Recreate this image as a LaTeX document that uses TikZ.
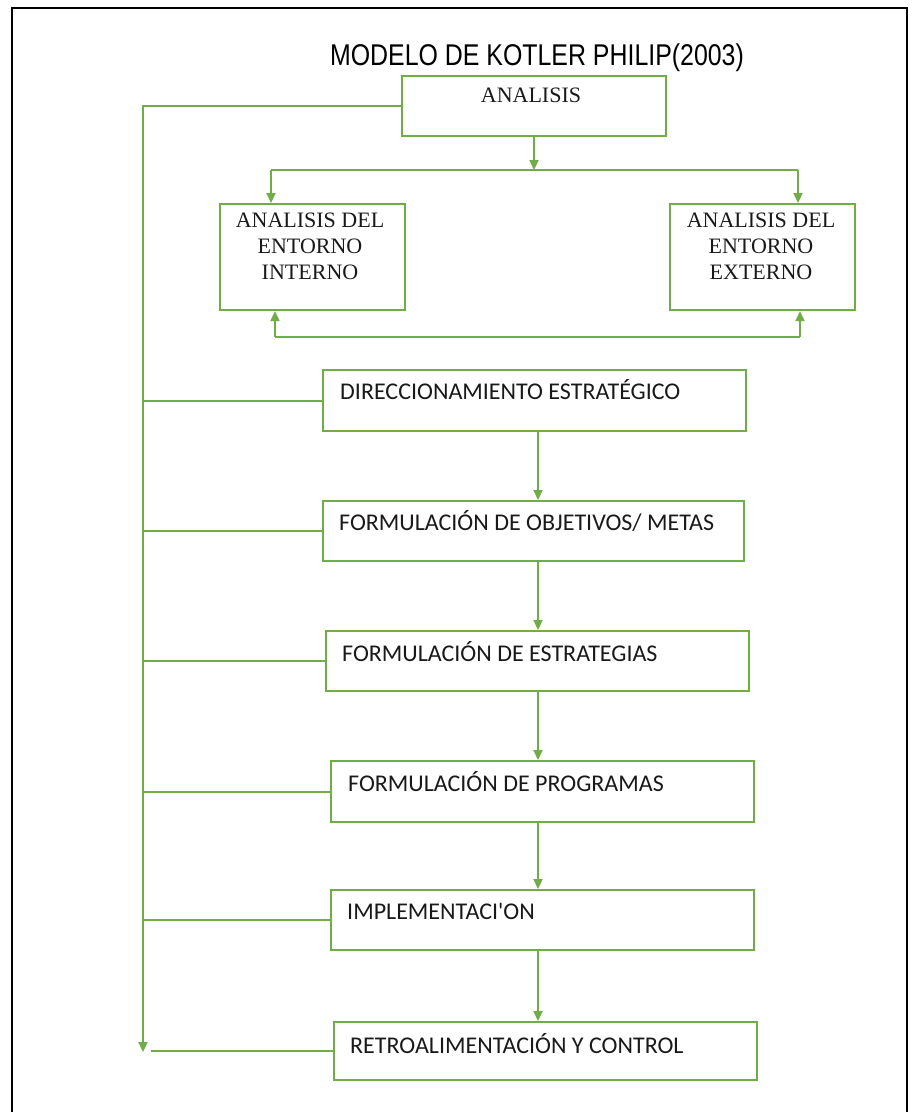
\documentclass[tikz,border=0pt]{standalone}
\usepackage{fontspec}
\setmainfont{Carlito}
\newfontfamily\seriff{Liberation Serif}
\newfontfamily\titlef{Liberation Sans}
\usetikzlibrary{arrows.meta}
\definecolor{grn}{RGB}{112,173,71}
\begin{document}
\begin{tikzpicture}[x=1pt,y=-1pt,
  box/.style={draw=grn, line width=2.2pt, rectangle, inner sep=0pt, anchor=north west},
  lbl/.style={anchor=west, inner sep=0pt, font=\fontsize{24}{28}\selectfont, text=black!90},
  slbl/.style={inner sep=0pt, align=center, font=\seriff\fontsize{22}{26}\selectfont, text=black!90},
  link/.style={draw=grn, line width=2.2pt},
  arr/.style={link, -{Triangle[length=10pt,width=9pt]}}]
\useasboundingbox (0,0) rectangle (919,1112);
\draw[line width=1.8pt] (12,1130) -- (12,8) -- (907,8) -- (907,1130);

\node (title) at (537,58) {\titlef\fontsize{30}{34}\selectfont\scalebox{0.83}[1]{MODELO DE KOTLER PHILIP(2003)}};

\node[box, minimum width=264pt, minimum height=60pt] (ana) at (401,75) {};
\node[slbl] (anaT) at (531,95) {ANALISIS};
\node[box, minimum width=185pt, minimum height=106pt] (int) at (219,203) {};
\node[slbl] (intT) at (310,246) {ANALISIS DEL\\ENTORNO\\INTERNO};
\node[box, minimum width=185pt, minimum height=106pt] (ext) at (669,203) {};
\node[slbl] (extT) at (761,246) {ANALISIS DEL\\ENTORNO\\EXTERNO};

\node[box, minimum width=423pt, minimum height=61pt] (dir) at (322,369) {};
\node[lbl] (dirT) at (340,390) {DIRECCIONAMIENTO ESTRATÉGICO};
\node[box, minimum width=421pt, minimum height=60pt] (obj) at (322,500) {};
\node[lbl] (objT) at (339,521) {FORMULACIÓN DE OBJETIVOS/ METAS};
\node[box, minimum width=423pt, minimum height=60pt] (est) at (325,630) {};
\node[lbl] (estT) at (342,652) {FORMULACIÓN DE ESTRATEGIAS};
\node[box, minimum width=423pt, minimum height=61pt] (prog) at (330,760) {};
\node[lbl] (progT) at (348,782) {FORMULACIÓN DE PROGRAMAS};
\node[box, minimum width=423pt, minimum height=60pt] (impl) at (330,889) {};
\node[lbl] (implT) at (347,911) {IMPLEMENTACI\textquotesingle ON};
\node[box, minimum width=423pt, minimum height=58pt] (retro) at (333,1021) {};
\node[lbl] (retroT) at (350,1044) {RETROALIMENTACIÓN Y CONTROL};

% analysis split
\coordinate (split) at (534,170);
\coordinate (jL) at (271,170);
\coordinate (jR) at (798,170);
\draw[arr] (ana.south -| split) -- (split);
\draw[link] (jL) -- (jR);
\draw[arr] (jL) -- (jL |- int.north);
\draw[arr] (jR) -- (jR |- ext.north);
\coordinate (bL) at (275,337);
\coordinate (bR) at (800,337);
\draw[link] (bL) -- (bR);
\draw[arr] (bL) -- (bL |- int.south);
\draw[arr] (bR) -- (bR |- ext.south);

% main chain
\coordinate (cx) at (538,0);
\draw[arr] (dir.south -| cx) -- (obj.north -| cx);
\draw[arr] (obj.south -| cx) -- (est.north -| cx);
\draw[arr] (est.south -| cx) -- (prog.north -| cx);
\draw[arr] (prog.south -| cx) -- (impl.north -| cx);
\draw[arr] (impl.south -| cx) -- (retro.north -| cx);

% feedback spine
\coordinate (sB) at (143,1052);
\draw[arr] (ana.west) -| (sB);
\draw[link] (dir.west) -- (dir.west -| sB);
\draw[link] (obj.west) -- (obj.west -| sB);
\draw[link] (est.west) -- (est.west -| sB);
\draw[link] (prog.west) -- (prog.west -| sB);
\draw[link] (impl.west) -- (impl.west -| sB);
\draw[link] (retro.west) -- ([xshift=8pt]retro.west -| sB);
\end{tikzpicture}
\end{document}
